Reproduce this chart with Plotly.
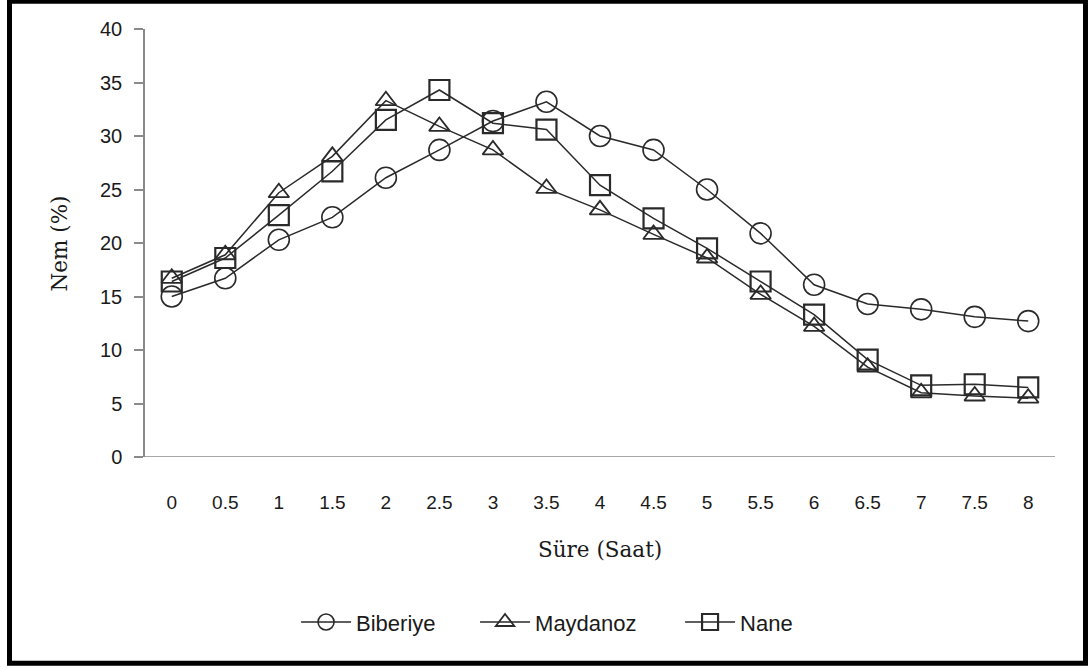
import plotly.graph_objects as go

# Drying time (hours) and moisture content (%) for three herbs
hours = [0, 0.5, 1, 1.5, 2, 2.5, 3, 3.5, 4, 4.5, 5, 5.5, 6, 6.5, 7, 7.5, 8]
hour_labels = ["0", "0.5", "1", "1.5", "2", "2.5", "3", "3.5", "4", "4.5",
               "5", "5.5", "6", "6.5", "7", "7.5", "8"]
biberiye = [15.0, 16.7, 20.3, 22.4, 26.1, 28.7, 31.4, 33.2, 30.0, 28.7,
            25.0, 20.9, 16.1, 14.3, 13.8, 13.1, 12.7]
maydanoz = [16.7, 18.9, 24.7, 28.1, 33.3, 30.9, 28.7, 25.1, 23.1, 20.8,
            18.6, 15.2, 12.2, 8.4, 6.0, 5.7, 5.5]
nane = [16.4, 18.6, 22.6, 26.7, 31.5, 34.3, 31.2, 30.6, 25.4, 22.3,
        19.5, 16.4, 13.3, 9.1, 6.7, 6.8, 6.5]
y_ticks = [0, 5, 10, 15, 20, 25, 30, 35, 40]

line_color = "#2a2a2a"
text_color = "#1a1a1a"

# name, values, marker symbol, marker size, marker outline, legend entry width
series = [
    ("Biberiye", biberiye, "circle-open", 21, 1.6, 114),
    ("Maydanoz", maydanoz, "triangle-up-open", 18, 1.8, 140),
    ("Nane", nane, "square-open", 20, 2.2, 60),
]

fig = go.Figure()
for name, values, symbol, size, mlw, lw in series:
    fig.add_trace(go.Scatter(
        x=hours, y=values, name=name, mode="lines+markers",
        line=dict(color=line_color, width=1.5),
        marker=dict(symbol=symbol, size=size,
                    line=dict(color=line_color, width=mlw)),
        legendwidth=lw,
    ))

fig.update_layout(
    width=1090, height=668,
    margin=dict(l=145, r=35, t=29, b=211),
    paper_bgcolor="white", plot_bgcolor="white",
    showlegend=True,
    legend=dict(orientation="h", x=0.166, xanchor="left", y=-0.386,
                yanchor="middle", font=dict(family="Liberation Sans", size=22,
                                              color=text_color),
                itemwidth=50, tracegroupgap=0),
    xaxis=dict(
        range=[-0.25, 8.25], tickvals=hours, ticktext=hour_labels,
        showgrid=False, zeroline=False, showline=False,
        ticks="outside", ticklen=0, ticklabelstandoff=28,
        tickfont=dict(family="Liberation Sans Narrow, Liberation Sans",
                      size=19, color=text_color),
    ),
    yaxis=dict(
        range=[0, 40], tickvals=y_ticks, showgrid=False, zeroline=False,
        showline=True, linecolor="#8a8a8a", linewidth=1.5,
        ticks="outside", ticklen=9, tickcolor="#8a8a8a", tickwidth=1.5,
        ticklabelstandoff=8,
        tickfont=dict(family="Liberation Sans", size=20, color=text_color),
    ),
    annotations=[
        dict(text="Süre (Saat)", xref="paper", yref="paper", x=0.5,
             y=-0.215, xanchor="center", yanchor="middle", showarrow=False,
             font=dict(family="DejaVu Serif", size=21.5, color=text_color)),
        dict(text="Nem (%)", xref="paper", yref="paper", x=-0.094, y=0.5,
             xanchor="center", yanchor="middle", textangle=-90,
             showarrow=False,
             font=dict(family="DejaVu Serif", size=21.5, color=text_color)),
    ],
    shapes=[
        # horizontal axis line at y = 0, extending slightly past the y axis
        dict(type="line", xref="paper", yref="y", x0=-0.01, x1=1.0,
             y0=0, y1=0, line=dict(color="#8a8a8a", width=1.5)),
        # black frame round the whole chart
        dict(type="rect", xref="paper", yref="paper",
             x0=(9.5 - 145) / 910, x1=(1085.5 - 145) / 910,
             y0=(457 - 663) / 427.4, y1=(457 - 2) / 427.4,
             line=dict(color="black", width=5), layer="below"),
    ],
)

fig.write_html("out.html")
